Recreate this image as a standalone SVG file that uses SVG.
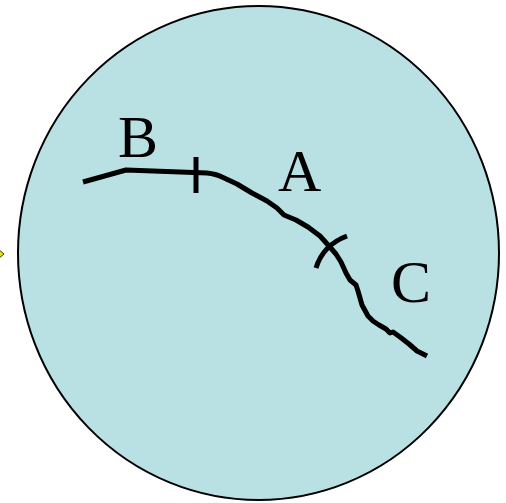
<svg xmlns="http://www.w3.org/2000/svg" width="506" height="503" viewBox="0 0 506 503">
<style>
.lbl{font-family:"Liberation Serif","Times New Roman",serif;font-size:60px;fill:#000}
.crv{fill:none;stroke:#000;stroke-width:5;stroke-linecap:butt;stroke-linejoin:round}
</style>
<rect width="506" height="503" fill="#fff"/>
<g id="marker-left">
<polygon points="-2,249 4,254 -2,259" fill="#e8e800" stroke="#333" stroke-width="1"/>
</g>
<g id="circle">
<ellipse cx="258.5" cy="253" rx="240.5" ry="247" fill="#b9e0e3" stroke="#000" stroke-width="2"/>
</g>
<g id="connectors">
<path class="crv" d="M83,182 L126,170 L207,173 Q216,174 222,177 L237,184 L252,193 L267,201 L277,208 L284,215 L296,220 L308,227 L320,236 L329,246 L336,254 L341,262 L346,273 L350,280 L356,285 L358,291 L362,305 L368,316 L373,321 L379,325 L386,329 L390,333 L393,332 L400,337 L409,344 L417,351 L427,356"/>
<line class="crv" x1="196" y1="157" x2="196" y2="193"/>
<path class="crv" d="M347,236 Q323,245 316,268"/>
</g>
<g id="label-B"><text class="lbl" x="118" y="157">B</text></g>
<g id="label-A"><text class="lbl" x="278" y="191">A</text></g>
<g id="label-C"><text class="lbl" x="391" y="302">C</text></g>
</svg>
